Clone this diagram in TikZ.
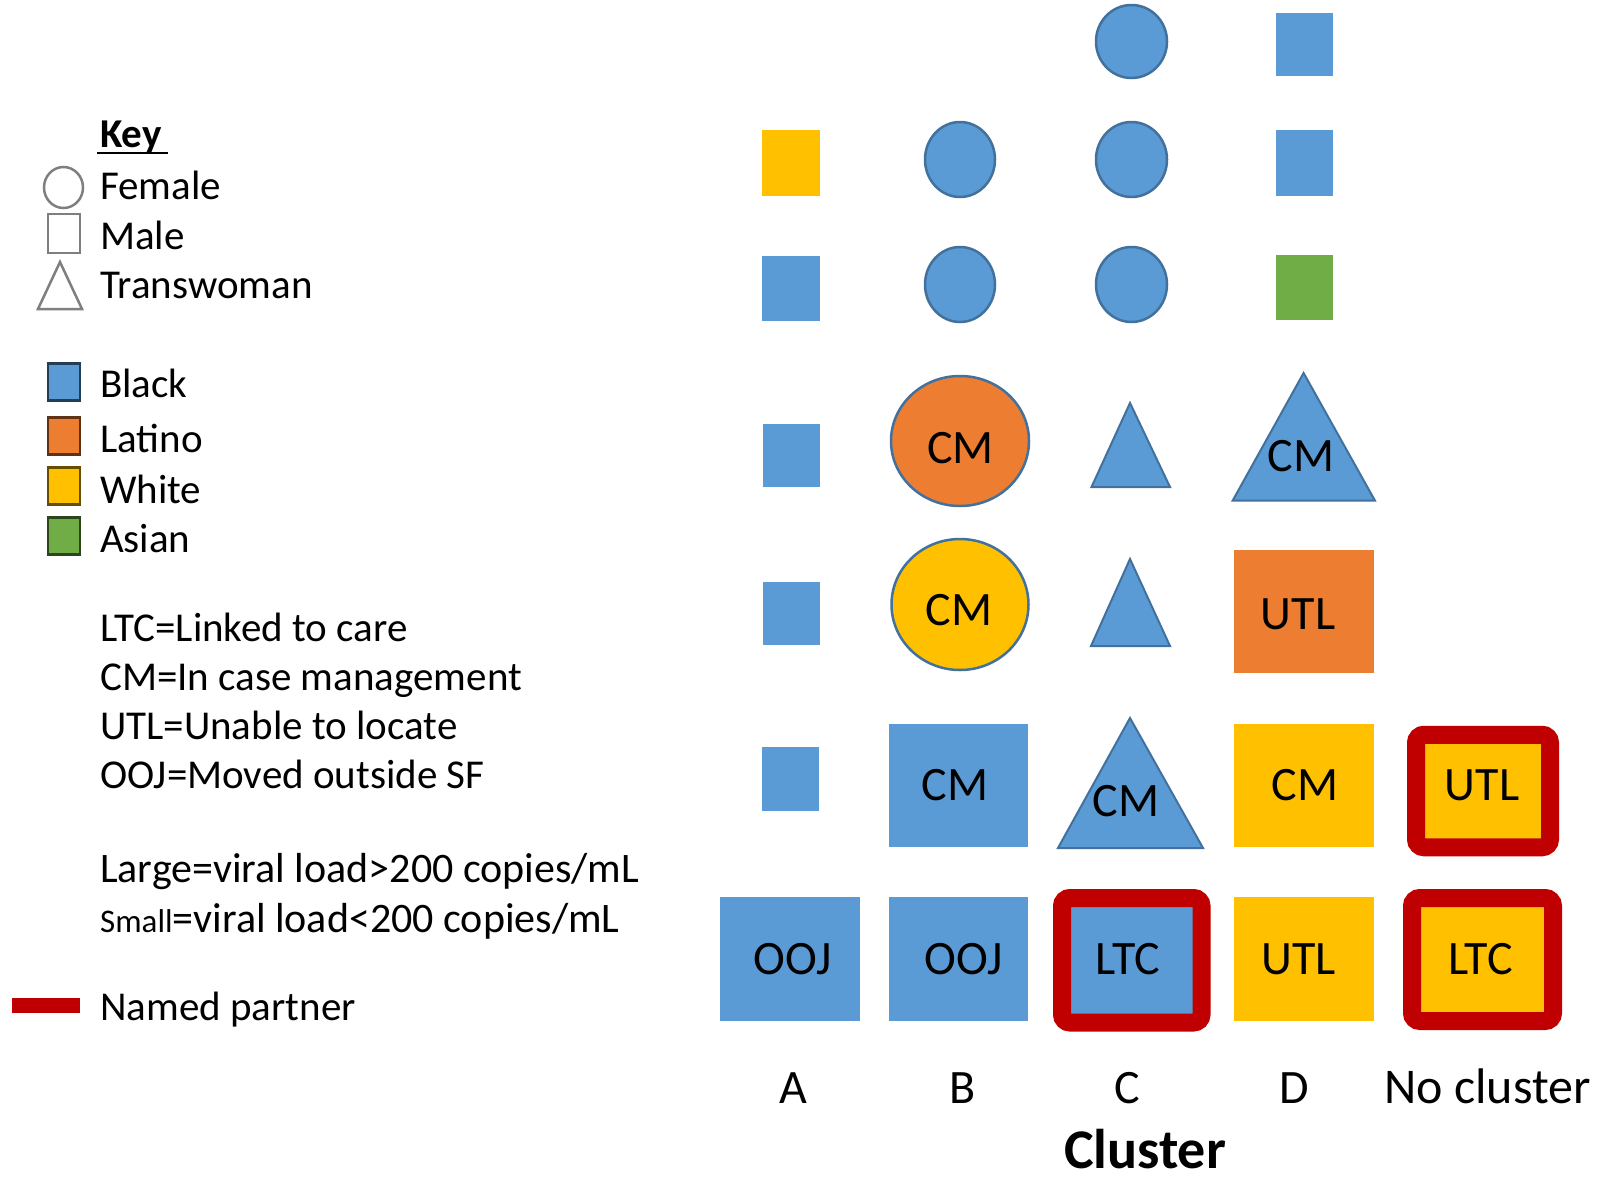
\documentclass[tikz,border=0pt]{standalone}
\usepackage{fontspec}
\setmainfont{Carlito}
\usetikzlibrary{shapes.geometric}
\definecolor{cblue}{HTML}{5B9BD5}
\definecolor{corange}{HTML}{ED7D31}
\definecolor{cyellow}{HTML}{FFC000}
\definecolor{cgreen}{HTML}{70AD47}
\definecolor{cred}{HTML}{C00000}
\definecolor{cedge}{HTML}{41719C}
\definecolor{cgray}{HTML}{7F7F7F}
\newcommand\lgfont{\fontsize{41}{49}\selectfont}
\newcommand\shfont{\fontsize{48}{56}\selectfont}
\begin{document}
\begin{tikzpicture}[x=1pt,y=-1pt,
  box/.style 2 args={rectangle, inner sep=0, minimum width=#1pt, minimum height=#2pt},
  circ/.style 2 args={ellipse, inner sep=0, minimum width=#1pt, minimum height=#2pt, draw=cedge, line width=2.5pt},
  tri/.style={fill=cblue, draw=cedge, line width=2pt, line join=miter},
  partner/.style={draw=cred, line width=18pt, rounded corners=8pt},
  lgtext/.style={anchor=base west, inner sep=0, font=\lgfont},
  shtext/.style={anchor=base, inner sep=0, font=\shfont},
  keyshape/.style={draw=cgray, line width=2.5pt, fill=white},
  swatch/.style={rectangle, inner sep=0, minimum width=32pt, minimum height=37pt, line width=2.5pt}
]
\useasboundingbox (0,0) rectangle (1599,1181);
\fill[white] (0,0) rectangle (1599,1181);

% ---------------- Legend ----------------
\node[lgtext, font=\lgfont\bfseries] (key) at (100,147) {Key};
\draw[line width=2.5pt] (97,153) -- (168,153);

\node[ellipse, keyshape, inner sep=0, minimum width=39pt, minimum height=41pt] (kfem) at (63.5,187.5) {};
\node[lgtext] (tfem) at (100,199) {Female};
\node[rectangle, keyshape, inner sep=0, minimum width=32pt, minimum height=39pt] (kmale) at (64,233.5) {};
\node[lgtext] (tmale) at (100,249) {Male};
\draw[keyshape, line join=miter] (60,262) -- (82,309) -- (38,309) -- cycle;
\node[lgtext] (ttrans) at (100,298) {Transwoman};

\node[swatch, fill=cblue, draw=cblue!40!black] (kblack) at (64,382) {};
\node[lgtext] (tblack) at (100,397) {Black};
\node[swatch, fill=corange, draw=corange!40!black] (klat) at (64,436) {};
\node[lgtext] (tlat) at (100,452) {Latino};
\node[swatch, fill=cyellow, draw=cyellow!40!black] (kwhite) at (64,486) {};
\node[lgtext] (twhite) at (100,503) {White};
\node[swatch, fill=cgreen, draw=cgreen!40!black] (kasian) at (64,536) {};
\node[lgtext] (tasian) at (100,552) {Asian};

\node[lgtext] (tltc) at (100,641) {LTC=Linked to care};
\node[lgtext] (tcm) at (100,690) {CM=In case management};
\node[lgtext] (tutl) at (100,739) {UTL=Unable to locate};
\node[lgtext] (tooj) at (100,788) {OOJ=Moved outside SF};

\node[lgtext, font=\fontsize{42}{50}\selectfont] (tlarge) at (100,882) {Large=viral load>200 copies/mL};
\node[lgtext, font=\fontsize{42}{50}\selectfont] (tsmall) at (100,932) {{\fontsize{33}{40}\selectfont Small}=viral load<200 copies/mL};

\node[rectangle, inner sep=0, fill=cred, minimum width=68pt, minimum height=15pt] (kred) at (46,1005) {};
\node[lgtext] (tnamed) at (100,1020) {Named partner};

% ---------------- Column A ----------------
\node[box={58}{66}, fill=cyellow] (A2) at (791,163) {};
\node[box={58}{65}, fill=cblue] (A3) at (791,288) {};
\node[box={57}{63}, fill=cblue] (A4) at (791,455.5) {};
\node[box={57}{63}, fill=cblue] (A5) at (791,613.5) {};
\node[box={57}{64}, fill=cblue] (A6) at (790,779) {};
\node[box={140}{124}, fill=cblue] (A7) at (790,959) {};
\node[shtext] (A7t) at (793,974) {OOJ};

% ---------------- Column B ----------------
\node[circ={70}{75}, fill=cblue] (B2) at (960,159.5) {};
\node[circ={70}{75}, fill=cblue] (B3) at (960,284.5) {};
\node[circ={138}{130}, fill=corange] (B4) at (960,441) {};
\node[shtext] (B4t) at (960.5,463) {CM};
\node[circ={137}{131}, fill=cyellow] (B5) at (960,604.5) {};
\node[shtext] (B5t) at (959,625) {CM};
\node[box={139}{123}, fill=cblue] (B6) at (958.5,785) {};
\node[shtext] (B6t) at (955,800) {CM};
\node[box={139}{124}, fill=cblue] (B7) at (958.5,959) {};
\node[shtext] (B7t) at (963.5,974) {OOJ};

% ---------------- Column C ----------------
\node[circ={71}{73}, fill=cblue] (C1) at (1131.5,41.5) {};
\node[circ={71}{75}, fill=cblue] (C2) at (1131.5,159.5) {};
\node[circ={71}{75}, fill=cblue] (C3) at (1131.5,284.5) {};
\draw[tri] (1130,403) -- (1170,487) -- (1091.5,487) -- cycle;
\draw[tri] (1130,559) -- (1170,646) -- (1091,646) -- cycle;
\draw[tri] (1130,718) -- (1203,848) -- (1058,848) -- cycle;
\node[shtext] (C6t) at (1126,816) {CM};
\node[box={139.5}{124.5}, partner, fill=cblue] (C7) at (1131.75,960.25) {};
\node[shtext] (C7t) at (1128,974) {LTC};

% ---------------- Column D ----------------
\node[box={57}{63}, fill=cblue] (D1) at (1304.5,44.5) {};
\node[box={57}{66}, fill=cblue] (D2) at (1304.5,163) {};
\node[box={57}{65}, fill=cgreen] (D3) at (1304.5,287.5) {};
\draw[tri] (1303.6,373) -- (1375,500.7) -- (1232.6,500.7) -- cycle;
\node[shtext] (D4t) at (1301,471) {CM};
\node[box={140}{123}, fill=corange] (D5) at (1304,611.5) {};
\node[shtext] (D5t) at (1298,629) {UTL};
\node[box={140}{123}, fill=cyellow] (D6) at (1304,785) {};
\node[shtext] (D6t) at (1305,800) {CM};
\node[box={140}{124}, fill=cyellow] (D7) at (1304,959) {};
\node[shtext] (D7t) at (1298.5,974) {UTL};

% ---------------- No cluster ----------------
\node[box={134}{112.5}, partner, fill=cyellow] (N6) at (1483,791) {};
\node[shtext] (N6t) at (1482,800) {UTL};
\node[box={141}{123}, partner, fill=cyellow] (N7) at (1482.5,959.5) {};
\node[shtext] (N7t) at (1480.5,974) {LTC};

% ---------------- Axis labels ----------------
\node[shtext] (lA) at (793.5,1103) {A};
\node[shtext] (lB) at (962.5,1103) {B};
\node[shtext] (lC) at (1127,1103) {C};
\node[shtext] (lD) at (1294.5,1103) {D};
\node[shtext, font=\fontsize{50}{58}\selectfont] (lN) at (1487.5,1103) {No cluster};
\node[shtext, font=\fontsize{56}{64}\selectfont\bfseries] (lCl) at (1145,1168) {Cluster};
\end{tikzpicture}
\end{document}
